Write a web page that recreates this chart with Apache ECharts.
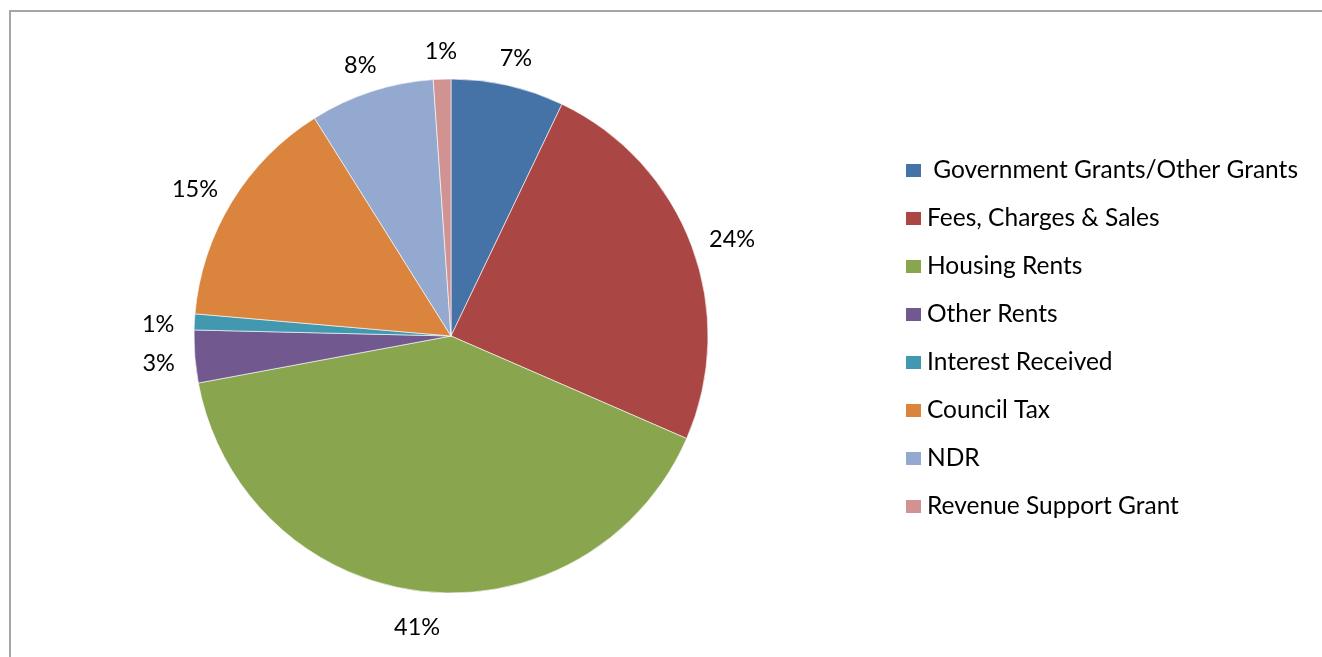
<!DOCTYPE html>
<html>
<head>
<meta charset="utf-8">
<script src="https://cdn.jsdelivr.net/npm/echarts@6/dist/echarts.min.js"></script>
<style>
html,body{margin:0;padding:0;background:#fff;}
#chart{width:1322px;height:657px;}
</style>
</head>
<body>
<div id="chart"></div>
<script>
var categories = [' Government Grants/Other Grants', 'Fees, Charges & Sales', 'Housing Rents', 'Other Rents', 'Interest Received', 'Council Tax', 'NDR', 'Revenue Support Grant'];
var shares = [7.1, 24.4, 40.5, 3.3, 1.0, 14.7, 7.8, 1.1];
var colors = ['#4572A7', '#AA4643', '#89A54E', '#71588F', '#4198AF', '#DB843D', '#93A9CF', '#D19392'];

var CX = 451, CY = 336, R = 257, GAP = 20;
var total = shares.reduce(function (a, b) { return a + b; }, 0);
var mids = [];
(function () {
  var acc = 0;
  for (var i = 0; i < shares.length; i++) {
    mids.push((acc + shares[i] / 2) / total * Math.PI * 2);
    acc += shares[i];
  }
})();

var chart = echarts.init(document.getElementById('chart'));
chart.setOption({
  backgroundColor: '#fff',
  animation: false,
  color: colors,
  textStyle: { fontFamily: 'Lato' },
  graphic: [{
    type: 'rect',
    shape: { x: 10, y: 11, width: 1400, height: 800 },
    style: { fill: 'none', stroke: '#a6a6a6', lineWidth: 2 },
    silent: true
  }],
  legend: {
    orient: 'vertical',
    left: 904,
    top: 158,
    padding: 0,
    itemWidth: 17,
    itemHeight: 15,
    itemGap: 23,
    icon: 'rect',
    textStyle: { fontFamily: 'Lato', fontSize: 24.5, color: '#000', lineHeight: 24 },
    data: categories
  },
  series: [{
    type: 'pie',
    center: [CX, CY],
    radius: R,
    startAngle: 90,
    clockwise: true,
    avoidLabelOverlap: false,
    percentPrecision: 0,
    itemStyle: { borderColor: '#ffffff', borderWidth: 0.6 },
    label: {
      show: true,
      position: 'outside',
      formatter: '{d}%',
      fontFamily: 'Lato',
      fontSize: 23.5,
      color: '#000'
    },
    labelLine: { show: false },
    labelLayout: function (p) {
      var t = mids[p.dataIndex];
      var s = Math.sin(t), c = Math.cos(t);
      var w = p.labelRect.width, h = p.labelRect.height;
      var px = CX + (R + GAP) * s;
      var py = CY - (R + GAP) * c;
      return {
        x: px + s * w / 2,
        y: py - c * h / 2 + 4,
        align: 'center',
        verticalAlign: 'middle'
      };
    },
    emphasis: { disabled: true },
    data: categories.map(function (n, i) { return { name: n, value: shares[i] }; })
  }]
});
</script>
</body>
</html>
